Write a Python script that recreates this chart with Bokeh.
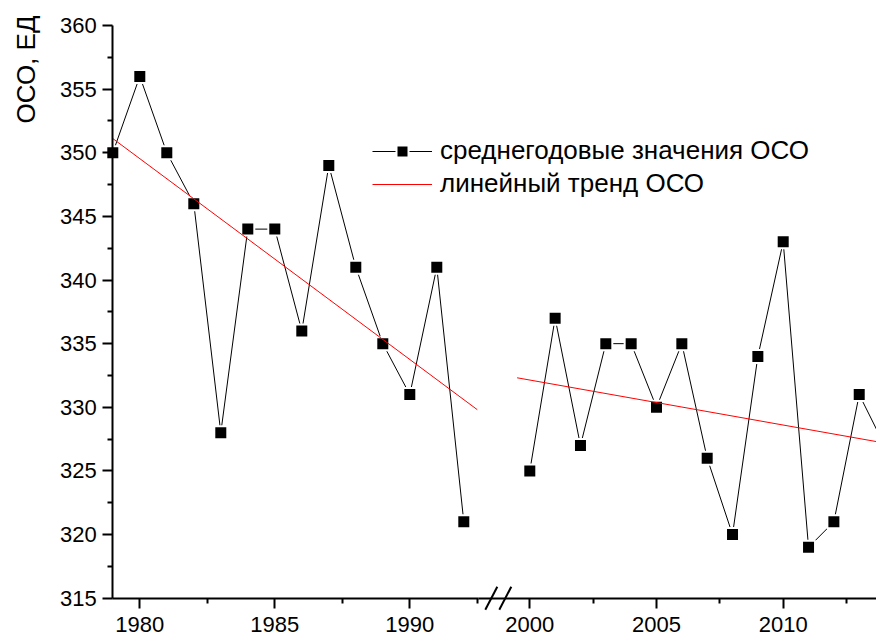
import numpy as np
from bokeh.plotting import figure
from bokeh.models import (Range1d, LinearAxis, FixedTicker, Label, Legend,
                          LegendItem, PolyAnnotation, Grid)
from bokeh.embed import file_html
from bokeh.resources import INLINE

# ---------------- data ----------------
years_1979_1992 = [1979, 1980, 1981, 1982, 1983, 1984, 1985, 1986, 1987,
                   1988, 1989, 1990, 1991, 1992]
oco_1979_1992 = [350, 356, 350, 346, 328, 344, 344, 336, 349, 341, 335,
                 331, 341, 321]
years_2000_2014 = [2000, 2001, 2002, 2003, 2004, 2005, 2006, 2007, 2008,
                   2009, 2010, 2011, 2012, 2013, 2014]
oco_2000_2014 = [325, 337, 327, 335, 335, 330, 335, 326, 320, 334, 343,
                 319, 321, 331, 327]

x_ticks_left = [1980, 1985, 1990]
x_minor_left = [1982.5, 1987.5, 1992.5]
x_ticks_right = [2000, 2005, 2010]
x_minor_right = [2002.5, 2007.5, 2012.5]
y_ticks = [315, 320, 325, 330, 335, 340, 345, 350, 355, 360]
y_minor = [317.5, 322.5, 327.5, 332.5, 337.5, 342.5, 347.5, 352.5, 357.5]

trend_span_left = [1979, 1992.5]
trend_span_right = [1999.5, 2014]

legend_labels = ["среднегодовые значения ОСО", "линейный тренд ОСО"]
y_title = "ОСО, ЕД"

# ---------------- layout constants ----------------
FONT = "Liberation Sans"
W, H = 876, 636
# pixel anchors of the axes (the whole canvas is the plotting frame)
x1980_px, px_per_year_left = 139.3, 27.0
x2000_px, px_per_year_right = 529.3, 25.34
y315_px, px_per_unit = 597.7, 12.727

left_range = Range1d(1980 - x1980_px / px_per_year_left,
                     1980 + (W - x1980_px) / px_per_year_left)
right_range = Range1d(2000 - x2000_px / px_per_year_right,
                      2000 + (W - x2000_px) / px_per_year_right)
y_range = Range1d(315 - (H - y315_px) / px_per_unit,
                  315 + y315_px / px_per_unit)

p = figure(width=W, height=H, x_range=left_range, y_range=y_range,
           output_backend="svg", toolbar_location=None,
           x_axis_location=None, y_axis_location=None,
           min_border=0, min_border_left=0, min_border_right=0,
           min_border_top=0, min_border_bottom=0)
p.extra_x_ranges = {"right": right_range}
p.outline_line_color = None
p.background_fill_color = "white"
p.border_fill_color = "white"
for r in list(p.center):
    if isinstance(r, Grid):
        r.visible = False


def style_axis(ax):
    ax.axis_line_width = 2
    ax.axis_line_color = "black"
    ax.major_tick_line_width = 2
    ax.minor_tick_line_width = 2
    ax.major_tick_line_color = "black"
    ax.minor_tick_line_color = "black"
    ax.major_tick_in = 0
    ax.minor_tick_in = 0
    ax.major_tick_out = 10
    ax.minor_tick_out = 5
    ax.major_label_text_font = FONT
    ax.major_label_text_font_size = "22px"
    ax.major_label_text_color = "black"


def left_from_right(year):
    """value on the left-segment range that sits at the same pixel as
    `year` on the right-segment range"""
    f = (year - right_range.start) / (right_range.end - right_range.start)
    return left_range.start + f * (left_range.end - left_range.start)


def right_from_left(year):
    f = (year - left_range.start) / (left_range.end - left_range.start)
    return right_range.start + f * (right_range.end - right_range.start)


# y axis
yaxis = LinearAxis(ticker=FixedTicker(ticks=y_ticks, minor_ticks=y_minor),
                   bounds=(315, 360), fixed_location=1979)
style_axis(yaxis)
yaxis.major_label_standoff = 6
p.add_layout(yaxis, "left")

# broken x axis: two segments drawn on the same base line
break_px = 478
break_left = 1980 + (break_px - x1980_px) / px_per_year_left
break_right = right_from_left(break_left)

ax1 = LinearAxis(ticker=FixedTicker(ticks=x_ticks_left, minor_ticks=x_minor_left),
                 bounds=(1979, break_left), fixed_location=315)
ax2 = LinearAxis(x_range_name="right",
                 ticker=FixedTicker(ticks=x_ticks_right, minor_ticks=x_minor_right),
                 bounds=(break_right, right_range.end), fixed_location=315)
for ax in (ax1, ax2):
    style_axis(ax)
    ax.major_label_standoff = 9
    p.add_layout(ax, "below")

# ---------------- data glyphs ----------------
l1 = p.line(years_1979_1992, oco_1979_1992, line_color="black", line_width=1)
s1 = p.scatter(years_1979_1992, oco_1979_1992, marker="square", size=13,
               fill_color="black", line_color="white", line_width=2)
l2 = p.line(years_2000_2014, oco_2000_2014, line_color="black", line_width=1,
            x_range_name="right")
s2 = p.scatter(years_2000_2014, oco_2000_2014, marker="square", size=13,
               fill_color="black", line_color="white", line_width=2,
               x_range_name="right")

c1 = np.polyfit(years_1979_1992, oco_1979_1992, 1)
c2 = np.polyfit(years_2000_2014, oco_2000_2014, 1)
t1 = p.line(trend_span_left, np.polyval(c1, trend_span_left),
            line_color="#ff0000", line_width=1)
t2 = p.line(trend_span_right, np.polyval(c2, trend_span_right),
            line_color="#ff0000", line_width=1, x_range_name="right")

# ---------------- axis break marks "//" ----------------
centre = left_from_right(2000 - (x2000_px - 497.8) / px_per_year_right)
dx = 6.0 / px_per_year_left
dy = 11.5 / px_per_unit
gap = 7.0 / px_per_year_left
for off in (-gap, gap):
    p.add_layout(PolyAnnotation(xs=[centre + off - dx, centre + off + dx],
                                ys=[315 - dy, 315 + dy],
                                fill_alpha=0, line_color="black",
                                line_alpha=1.0, line_width=2))

# ---------------- y title ----------------
p.add_layout(Label(x=1979, y=360, x_offset=-87, y_offset=10, text=y_title,
                   angle=np.pi / 2, text_align="right",
                   text_baseline="alphabetic", text_font=FONT,
                   text_font_size="26px", text_color="black"))

# ---------------- legend ----------------
legend = Legend(items=[LegendItem(label=legend_labels[0], renderers=[l1, s1]),
                       LegendItem(label=legend_labels[1], renderers=[t1])],
                location=(372, 436), orientation="vertical",
                glyph_width=60, glyph_height=30, label_height=33,
                label_standoff=8, spacing=0, padding=0, margin=0,
                label_text_font=FONT, label_text_font_size="26px",
                label_text_color="black", border_line_color=None,
                background_fill_alpha=0)
p.add_layout(legend, "center")

open("out.html", "w").write(file_html(p, INLINE))
